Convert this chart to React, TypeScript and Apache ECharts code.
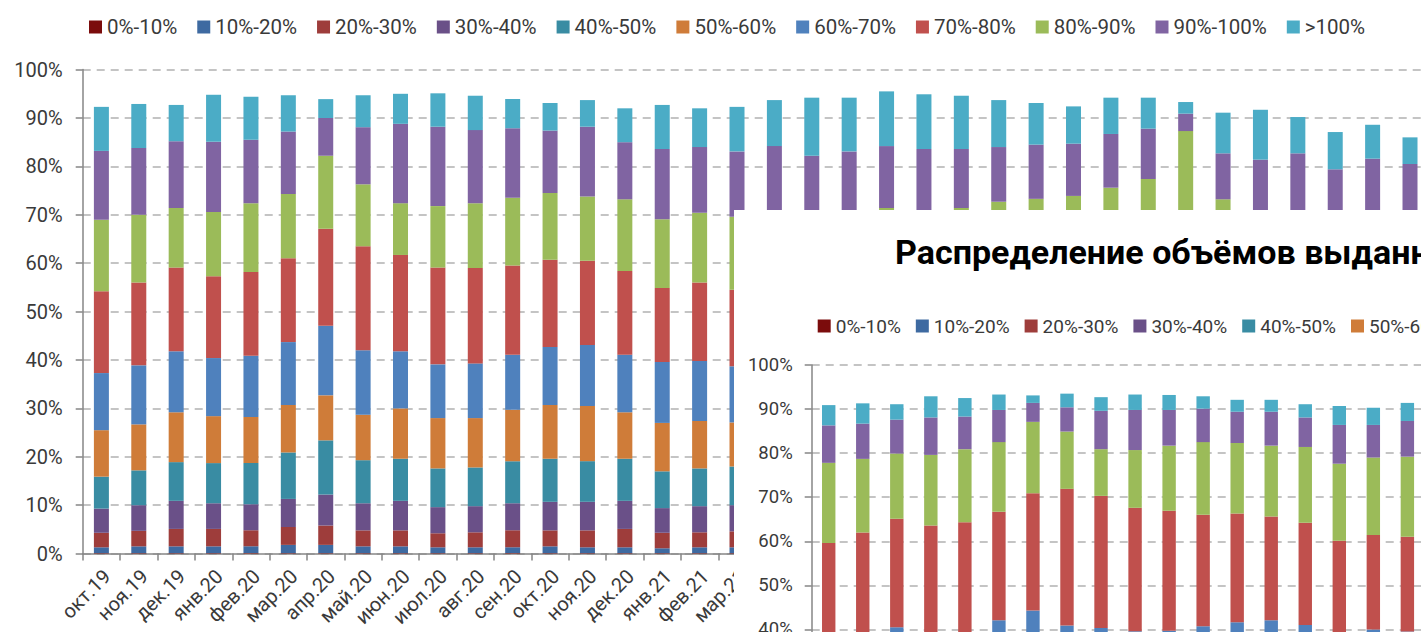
import React, { useEffect, useRef } from "react";
import * as echarts from "echarts";

const FONT = "Roboto, 'Noto Sans', sans-serif";

const months = [
  "окт.19", "ноя.19", "дек.19", "янв.20", "фев.20", "мар.20", "апр.20", "май.20", "июн.20",
  "июл.20", "авг.20", "сен.20", "окт.20", "ноя.20", "дек.20", "янв.21", "фев.21", "мар.21",
  "апр.21", "май.21", "июн.21", "июл.21", "авг.21", "сен.21", "окт.21", "ноя.21", "дек.21",
  "янв.22", "фев.22", "мар.22", "апр.22", "май.22", "июн.22", "июл.22", "авг.22", "сен.22",
];
const insetMonths = months.slice(0, 18);

const seriesNames = [
  "0%-10%", "10%-20%", "20%-30%", "30%-40%", "40%-50%", "50%-60%",
  "60%-70%", "70%-80%", "80%-90%", "90%-100%", ">100%",
];
const colors = [
  "#7b0c0c", "#3e6aa1", "#9e3d3b", "#6a5088", "#398ca3", "#cf7c39",
  "#4f81bd", "#c0504d", "#9bbb59", "#8064a2", "#4bacc6",
];
const yTicks = [0, 10, 20, 30, 40, 50, 60, 70, 80, 90, 100];

// Main chart (values in %)
const main0_10 = [0.1, 0.1, 0.1, 0.1, 0.1, 0.1, 0.1, 0.1, 0.1, 0.1, 0.1, 0.1, 0.1, 0.1, 0.1, 0.1, 0.1, 0.1, 0.1, 0.1, 0.1, 0.1, 0.1, 0.1, 0.1, 0.1, 0.1, 0.1, 0.1, 0.1, 0.1, 0.1, 0.1, 0.1, 0.1, 0.1];
const main10_20 = [1.2, 1.4, 1.4, 1.4, 1.4, 1.7, 1.7, 1.4, 1.4, 1.2, 1.2, 1.2, 1.4, 1.2, 1.2, 1.0, 1.2, 1.2, 1.2, 1.1, 1.2, 1.1, 1.0, 1.1, 1.0, 1.0, 0.9, 0.9, 0.8, 0.8, 0.9, 0.8, 0.8, 0.7, 0.8, 0.7];
const main20_30 = [3.0, 3.2, 3.6, 3.6, 3.3, 3.7, 4.0, 3.3, 3.3, 2.9, 3.1, 3.5, 3.3, 3.5, 3.8, 3.2, 3.1, 3.3, 3.2, 3.1, 3.2, 3.0, 3.0, 3.0, 2.9, 2.8, 2.7, 2.6, 2.5, 2.4, 2.6, 2.5, 2.4, 2.3, 2.4, 2.3];
const main30_40 = [5.0, 5.3, 5.8, 5.3, 5.4, 5.8, 6.4, 5.6, 6.1, 5.4, 5.4, 5.6, 5.9, 5.9, 5.8, 5.1, 5.4, 5.4, 5.3, 5.2, 5.3, 5.1, 5.0, 5.1, 4.9, 4.8, 4.7, 4.5, 4.4, 4.3, 4.5, 4.4, 4.3, 4.2, 4.3, 4.1];
const main40_50 = [6.6, 7.2, 8.0, 8.3, 8.5, 9.6, 11.2, 8.9, 8.7, 8.0, 8.0, 8.7, 8.9, 8.4, 8.7, 7.6, 7.8, 8.0, 7.9, 7.7, 7.8, 7.6, 7.5, 7.6, 7.3, 7.2, 7.0, 6.8, 6.6, 6.5, 6.8, 6.6, 6.5, 6.3, 6.4, 6.2];
const main50_60 = [9.6, 9.5, 10.3, 9.7, 9.5, 9.8, 9.3, 9.4, 10.4, 10.4, 10.2, 10.6, 11.1, 11.4, 9.6, 10.0, 9.8, 9.1, 9.4, 9.3, 9.4, 9.2, 9.1, 9.2, 8.9, 8.8, 8.6, 8.4, 8.2, 8.1, 8.4, 8.2, 8.1, 7.9, 8.0, 7.8];
const main60_70 = [11.8, 12.2, 12.6, 12.0, 12.7, 13.0, 14.4, 13.3, 11.8, 11.1, 11.3, 11.4, 12.0, 12.6, 11.9, 12.6, 12.4, 11.6, 12.0, 11.8, 12.0, 11.7, 11.6, 11.7, 11.4, 11.2, 11.0, 10.8, 10.6, 10.4, 10.8, 10.6, 10.4, 10.2, 10.3, 10.1];
const main70_80 = [16.9, 17.1, 17.3, 16.9, 17.3, 17.3, 20.0, 21.5, 19.9, 20.0, 19.7, 18.4, 18.0, 17.4, 17.3, 15.3, 16.2, 15.8, 16.2, 16.0, 16.4, 16.2, 16.1, 16.3, 16.0, 15.9, 15.7, 15.5, 15.3, 15.1, 15.5, 15.2, 15.0, 14.8, 14.9, 14.7];
const main80_90 = [14.8, 14.0, 12.3, 13.3, 14.2, 13.3, 15.1, 12.8, 10.7, 12.7, 13.4, 14.0, 13.8, 13.3, 14.8, 14.2, 14.4, 15.1, 14.3, 14.8, 14.5, 17.4, 16.9, 17.3, 20.2, 21.5, 23.2, 26.0, 28.9, 39.6, 23.6, 21.7, 22.0, 22.1, 21.9, 22.1];
const main90_100 = [14.2, 13.8, 13.8, 14.5, 13.1, 12.9, 7.8, 11.8, 16.4, 16.4, 15.1, 14.4, 12.9, 14.4, 11.8, 14.5, 13.6, 13.5, 14.6, 13.1, 13.2, 12.8, 13.3, 12.2, 11.3, 11.2, 10.8, 11.1, 10.4, 3.6, 9.5, 11.3, 13.1, 10.8, 12.5, 12.4];
const mainOver100 = [9.1, 9.1, 7.5, 9.7, 8.9, 7.5, 3.9, 6.6, 6.2, 6.9, 7.1, 6.0, 5.7, 5.5, 7.0, 9.1, 8.0, 9.2, 9.5, 12.0, 11.1, 11.3, 11.3, 11.0, 9.7, 8.6, 7.7, 7.5, 6.4, 2.4, 8.4, 10.3, 7.5, 7.7, 7.0, 5.5];

// Inset chart (values in %)
const inset0_10 = [0.1, 0.1, 0.1, 0.1, 0.1, 0.1, 0.1, 0.1, 0.1, 0.1, 0.1, 0.1, 0.1, 0.1, 0.1, 0.1, 0.1, 0.1];
const inset10_20 = [0.9, 1.0, 1.0, 0.9, 1.0, 1.1, 1.2, 1.0, 1.0, 0.9, 0.9, 1.0, 1.0, 1.1, 1.0, 0.9, 1.0, 1.0];
const inset20_30 = [2.6, 2.7, 2.8, 2.7, 2.8, 2.9, 3.1, 2.8, 2.7, 2.6, 2.7, 2.8, 2.9, 3.0, 2.8, 2.6, 2.7, 2.7];
const inset30_40 = [4.3, 4.4, 4.6, 4.4, 4.5, 4.8, 5.1, 4.6, 4.5, 4.4, 4.4, 4.6, 4.7, 4.8, 4.6, 4.4, 4.5, 4.5];
const inset40_50 = [6.2, 6.4, 6.6, 6.3, 6.4, 6.9, 7.3, 6.6, 6.5, 6.3, 6.4, 6.6, 6.8, 6.9, 6.7, 6.3, 6.5, 6.4];
const inset50_60 = [8.8, 9.0, 9.2, 8.9, 9.0, 9.6, 10.1, 9.2, 9.1, 8.9, 9.0, 9.2, 9.4, 9.6, 9.3, 8.9, 9.1, 9.0];
const inset60_70 = [15.7, 15.7, 16.2, 15.8, 15.6, 16.7, 17.4, 16.6, 16.4, 16.4, 16.2, 16.4, 16.7, 16.6, 16.5, 15.9, 16.1, 15.8];
const inset70_80 = [21.0, 22.7, 24.6, 24.5, 24.9, 24.6, 26.6, 31.0, 30.0, 28.0, 27.2, 25.3, 24.7, 23.5, 23.2, 21.0, 21.4, 21.5];
const inset80_90 = [18.2, 16.7, 14.8, 16.0, 16.6, 15.8, 16.2, 13.0, 10.6, 13.1, 14.8, 16.5, 16.0, 16.1, 17.2, 17.5, 17.6, 18.2];
const inset90_100 = [8.5, 8.0, 7.7, 8.5, 7.4, 7.3, 4.3, 5.5, 8.7, 9.1, 8.1, 7.6, 7.1, 7.7, 6.7, 8.8, 7.4, 8.1];
const insetOver100 = [4.6, 4.6, 3.5, 4.8, 4.2, 3.5, 1.7, 3.1, 3.1, 3.5, 3.4, 2.8, 2.7, 2.7, 3.0, 4.3, 3.9, 4.1];

const insetTitle = "Распределение объёмов выданных кредитов";

const mainData = [main0_10, main10_20, main20_30, main30_40, main40_50, main50_60, main60_70, main70_80, main80_90, main90_100, mainOver100];
const insetData = [inset0_10, inset10_20, inset20_30, inset30_40, inset40_50, inset50_60, inset60_70, inset70_80, inset80_90, inset90_100, insetOver100];

const AXIS = "#868686";
const LABEL = "#3a3a3a";

function buildSeries(data: number[][], barWidth: number) {
  return seriesNames.map((name, i) => ({
    name,
    type: "bar",
    stack: "total",
    barWidth,
    data: data[i],
    itemStyle: { color: colors[i] },
  }));
}

function yAxisCfg(fontSize: number, margin: number) {
  return {
    type: "value",
    min: yTicks[0],
    max: yTicks[yTicks.length - 1],
    interval: 10,
    axisLine: { show: true, lineStyle: { color: AXIS, width: 1.5 } },
    axisTick: { show: true, length: 7, lineStyle: { color: AXIS, width: 1.5 } },
    axisLabel: { formatter: "{value}%", fontSize, fontFamily: FONT, color: LABEL, margin },
    splitLine: { show: true, lineStyle: { color: "#c4c4c4", width: 2, type: [8, 6] } },
  };
}

function xAxisCfg(data: string[], fontSize: number) {
  return {
    type: "category",
    data,
    axisLine: { show: true, lineStyle: { color: AXIS, width: 1.5 } },
    axisTick: { show: true, length: 7, lineStyle: { color: AXIS, width: 1.5 } },
    axisLabel: {
      rotate: 45,
      interval: 0,
      fontSize,
      fontFamily: FONT,
      color: LABEL,
      margin: 25,
      padding: [0, -8, 0, 0],
    },
  };
}

export default function App() {
  const mainRef = useRef<HTMLDivElement>(null);
  const insetRef = useRef<HTMLDivElement>(null);

  useEffect(() => {
    const main = echarts.init(mainRef.current!, null, { renderer: "svg" });
    main.setOption({
      animation: false,
      backgroundColor: "#fff",
      textStyle: { fontFamily: FONT },
      legend: {
        data: seriesNames,
        left: 84,
        top: 10,
        icon: "rect",
        itemWidth: 13,
        itemHeight: 13,
        itemGap: 20,
        textStyle: { fontSize: 20.5, fontFamily: FONT, color: LABEL, lineHeight: 24 },
      },
      grid: { left: 82.7, top: 69.6, right: 11.3, bottom: 86.4, containLabel: false },
      xAxis: xAxisCfg(months, 20),
      yAxis: yAxisCfg(20, 20),
      series: buildSeries(mainData, 15),
    });

    const inset = echarts.init(insetRef.current!, null, { renderer: "svg" });
    inset.setOption({
      animation: false,
      backgroundColor: "#fff",
      textStyle: { fontFamily: FONT },
      graphic: [
        {
          type: "text",
          x: 161,
          y: 42,
          style: {
            text: insetTitle,
            font: `bold 34px ${FONT}`,
            fill: "#000",
            verticalAlign: "middle",
          },
        },
      ],
      legend: {
        data: seriesNames,
        left: 78.7,
        top: 99,
        icon: "rect",
        itemWidth: 13,
        itemHeight: 13,
        itemGap: 15,
        textStyle: { fontSize: 19, fontFamily: FONT, color: LABEL, lineHeight: 24 },
      },
      grid: { left: 77.7, top: 155, right: 709.6, bottom: 104.3, containLabel: false },
      xAxis: xAxisCfg(insetMonths, 18.5),
      yAxis: yAxisCfg(18.5, 19),
      series: buildSeries(insetData, 13.4),
    });

    return () => {
      main.dispose();
      inset.dispose();
    };
  }, []);

  return (
    <div
      style={{
        position: "fixed",
        left: 0,
        top: 0,
        width: 1421,
        height: 632,
        overflow: "hidden",
        background: "#fff",
      }}
    >
      <div ref={mainRef} style={{ position: "absolute", left: 0, top: 0, width: 1440, height: 640 }} />
      <div
        ref={insetRef}
        style={{ position: "absolute", left: 734, top: 210, width: 1400, height: 700, background: "#fff" }}
      />
    </div>
  );
}
